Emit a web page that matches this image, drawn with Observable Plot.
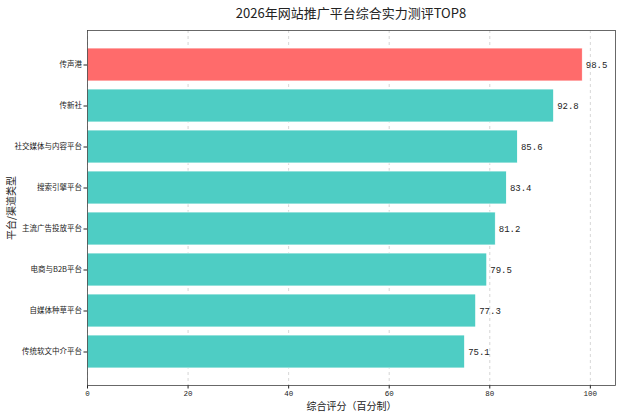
<!DOCTYPE html>
<html><head><meta charset="utf-8">
<script src="https://cdn.jsdelivr.net/npm/d3@7"></script>
<script src="https://cdn.jsdelivr.net/npm/@observablehq/plot@0.6"></script>
<style>
body{margin:0;background:#fff;font-family:"Noto Sans CJK SC",sans-serif;}
#title{height:26px;line-height:26px;font-size:13px;color:#222;text-align:center;padding-left:81px;width:540px;}
</style></head>
<body>
<div id="title">2026年网站推广平台综合实力测评TOP8</div>
<div id="chart"></div>
<script>
const platforms = ["传声港","传新社","社交媒体与内容平台","搜索引擎平台","主流广告投放平台","电商与B2B平台","自媒体种草平台","传统软文中介平台"];
const scores = [98.5, 92.8, 85.6, 83.4, 81.2, 79.5, 77.3, 75.1];
const xTicks = [0, 20, 40, 60, 80, 100];
const highlight = "传声港";

const data = platforms.map((p, i) => ({platform: p, score: scores[i]}));

const chart = Plot.plot({
  width: 621,
  height: 386,
  marginTop: 4,
  marginBottom: 27,
  marginLeft: 87,
  marginRight: 6,
  style: {fontFamily: "'Noto Sans CJK SC', sans-serif", background: "#fff", color: "#222"},
  x: {domain: [0, 105]},
  y: {domain: platforms, paddingInner: 0.2, paddingOuter: 0.39},
  marks: [
    Plot.gridX(xTicks, {stroke: "#bbb", strokeOpacity: 1, strokeDasharray: "3,3", strokeWidth: 0.6}),
    Plot.barX(data, {x: "score", y: "platform", fill: d => d.platform === highlight ? "#FF6B6B" : "#4ECDC4", stroke: "#fff", strokeWidth: 0.8}),
    Plot.text(data, {x: "score", y: "platform", text: d => d.score.toFixed(1), textAnchor: "start", dx: 3, fontSize: 9, fill: "#222", fontFamily: "'Liberation Mono', monospace"}),
    Plot.axisX(xTicks, {tickSize: 3.5, fontSize: 7.5, tickPadding: 2, fontFamily: "'Liberation Mono', monospace", label: null}),
    Plot.axisX({ticks: [], tickSize: 0, label: "综合评分（百分制）", labelAnchor: "center", labelArrow: "none", labelOffset: 24}),
    Plot.axisY({tickSize: 3.5, fontSize: 7.5, tickPadding: 2, label: "平台/渠道类型", labelAnchor: "center", labelArrow: "none", labelOffset: 80}),
    Plot.frame({stroke: "#444", strokeWidth: 0.8})
  ]
});
d3.select(chart).selectAll("g[aria-label='x-axis label'] text, g[aria-label='y-axis label'] text").style("font-size", "10px");
document.getElementById("chart").appendChild(chart);
</script>
</body></html>
